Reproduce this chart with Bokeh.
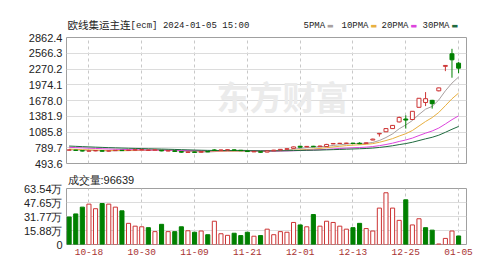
from bokeh.plotting import figure
from bokeh.layouts import column
from bokeh.models import Range1d, FixedTicker, Label, NumeralTickFormatter, Title
from bokeh.core.properties import value
from bokeh.embed import file_html
from bokeh.resources import INLINE

# ---------------- data ----------------
dates = ["10-13", "10-16", "10-17", "10-18", "10-19", "10-20", "10-23", "10-24", "10-25", "10-26", "10-27",
         "10-30", "10-31", "11-01", "11-02", "11-03", "11-06", "11-07", "11-08", "11-09", "11-10",
         "11-13", "11-14", "11-15", "11-16", "11-17", "11-20", "11-21", "11-22", "11-23", "11-24",
         "11-27", "11-28", "11-29", "11-30", "12-01", "12-04", "12-05", "12-06", "12-07", "12-08",
         "12-11", "12-12", "12-13", "12-14", "12-15", "12-18", "12-19", "12-20", "12-21", "12-22",
         "12-25", "12-26", "12-27", "12-28", "12-29", "01-02", "01-03", "01-04", "01-05"]
tick_dates = ["10-18", "10-30", "11-09", "11-21", "12-01", "12-13", "12-25", "01-05"]

opens = [745, 745, 735, 725, 730, 735, 726, 735, 742, 738,
         746, 750, 742, 745, 742, 728, 732, 718, 702, 712,
         705, 720, 748, 742, 748, 750, 742, 730, 712, 715,
         708, 732, 748, 760, 778, 818, 806, 818, 810, 812,
         862, 870, 872, 876, 875, 872, 935, 1050, 1090, 1150,
         1275, 1330, 1320, 1550, 1640, 1681, 1860, 2320, 2556, 2380]
highs = [755, 750, 742, 738, 742, 738, 736, 746, 745, 750,
         758, 762, 752, 755, 748, 740, 736, 722, 715, 716,
         722, 724, 760, 752, 758, 755, 746, 735, 728, 718,
         735, 750, 765, 780, 810, 825, 822, 825, 828, 862,
         875, 880, 882, 880, 892, 890, 960, 1062, 1155, 1215,
         1375, 1400, 1480, 1725, 1836, 1690, 1918, 2340, 2650, 2400]
lows = [740, 735, 722, 720, 725, 720, 720, 730, 730, 735,
        740, 745, 738, 740, 725, 725, 715, 700, 695, 698,
        700, 708, 735, 738, 742, 735, 728, 712, 708, 700,
        705, 728, 742, 755, 775, 795, 800, 805, 805, 808,
        858, 862, 866, 864, 858, 868, 930, 1000, 1085, 1145,
        1265, 1150, 1315, 1545, 1573, 1525, 1850, 2230, 2106, 2192]
closes = [748, 740, 728, 732, 738, 725, 732, 742, 736, 745,
          752, 755, 745, 750, 730, 735, 720, 706, 710, 702,
          718, 712, 742, 748, 752, 740, 735, 718, 722, 705,
          730, 745, 760, 772, 806, 800, 815, 808, 822, 852,
          870, 874, 876, 870, 866, 882, 952, 1060, 1150, 1210,
          1360, 1310, 1475, 1720, 1712, 1618, 1915, 2337, 2443, 2286]
# closes before the window, only used to seed the moving averages
prev_closes = [905, 890, 884, 878, 870, 866, 860, 858, 852, 845,
               842, 838, 835, 832, 830, 828, 826, 822, 818, 815,
               800, 788, 775, 768, 762, 758, 752, 750, 755]
volumes = [312000, 347000, 424000, 458000, 406000, 465000, 458000, 424000, 382000, 240000,
           208000, 201000, 191000, 146000, 229000, 146000, 146000, 201000, 156000, 139000,
           153000, 111000, 264000, 122000, 104000, 128000, 101000, 139000, 94000, 101000,
           174000, 111000, 146000, 139000, 250000, 222000, 201000, 340000, 208000, 264000,
           250000, 208000, 174000, 191000, 240000, 181000, 153000, 413000, 587000, 413000,
           274000, 507000, 222000, 292000, 191000, 163000, 6000, 69000, 153000, 96639]

price_ticks = [493.6, 789.7, 1085.8, 1381.9, 1678.0, 1974.1, 2270.2, 2566.3, 2862.4]
vol_ticks = [0, 158800, 317700, 476500, 635400]
vol_tick_labels = ["0", "15.88万", "31.77万", "47.65万", "63.54万"]
ma_periods = [5, 10, 20, 30]
ma_names = ["5PMA", "10PMA", "20PMA", "30PMA"]
ma_colors = ["#a8a0a0", "#e8b040", "#dd44dd", "#1f6b3f"]
title_cn = "欧线集运主连"
title_rest = "[ecm] 2024-01-05 15:00"

# ---------------- derived ----------------
n = len(closes)
idx = list(range(n))
tick_pos = [dates.index(d) for d in tick_dates]
all_close = prev_closes + closes
off = len(prev_closes)


def moving_average(k):
    return [sum(all_close[off + i - k + 1: off + i + 1]) / k for i in range(n)]


RED = "#cc3333"
GREEN = "#008000"
up = [c >= o for o, c in zip(opens, closes)]
c_line = [RED if u else GREEN for u in up]
c_fill = ["white" if u else GREEN for u in up]
b_top = [max(o, c) for o, c in zip(opens, closes)]
b_bot = [min(o, c) for o, c in zip(opens, closes)]
prevc = [prev_closes[-1]] + closes[:-1]
vup = [c >= pc for c, pc in zip(closes, prevc)]
v_line = [RED if u else GREEN for u in vup]
v_fill = ["white" if u else GREEN for u in vup]

SANS = "Liberation Sans"
TXT = "#222222"
LEFT, RIGHT = 66, 32

# ---------------- header strip (title + legend) ----------------
H0 = 31
HY = 25.0
p0 = figure(width=498, height=H0, x_range=Range1d(LEFT, 498 - RIGHT), y_range=Range1d(H0, 0),
            output_backend="svg", toolbar_location=None, x_axis_location=None, y_axis_location=None,
            min_border_left=LEFT, min_border_right=RIGHT, min_border_top=0, min_border_bottom=0)
p0.outline_line_color = None
p0.grid.visible = False
p0.add_layout(Label(x=67, y=23.6, text=title_cn, text_font="Noto Sans CJK SC", text_font_size="10.5px",
                    text_color=TXT, text_baseline="middle"))
p0.add_layout(Label(x=130, y=HY, text=title_rest, text_font="Liberation Mono", text_font_size="9px",
                    text_color=TXT, text_baseline="middle"))
leg_x = [303, 341, 381, 422]
for name, col, lx in zip(ma_names, ma_colors, leg_x):
    p0.add_layout(Label(x=lx, y=HY, text=name, text_font="Liberation Mono", text_font_size="9px",
                        text_color=TXT, text_baseline="middle"))
    p0.add_layout(Label(x=lx + len(name) * 5.4 + 2, y=HY, text="▬", text_font="DejaVu Sans",
                        text_font_size="7px", text_color=col, text_baseline="middle"))

xr = Range1d(-0.4, 60.2)

# ---------------- price panel ----------------
p1 = figure(width=498, height=169 - H0, x_range=xr,
            y_range=Range1d(price_ticks[0], price_ticks[-1]),
            output_backend="svg", toolbar_location=None, x_axis_location=None,
            min_border_left=LEFT, min_border_right=RIGHT, min_border_top=37 - H0, min_border_bottom=6)
p1.outline_line_color = "#a0a0a0"
p1.yaxis.ticker = FixedTicker(ticks=price_ticks)
p1.yaxis.formatter = NumeralTickFormatter(format="0.0")
p1.yaxis.axis_line_color = None
p1.yaxis.major_tick_line_color = None
p1.yaxis.minor_tick_line_color = None
p1.yaxis.major_tick_out = 0
p1.yaxis.major_tick_in = 0
p1.yaxis.major_label_standoff = 4
p1.yaxis.major_label_text_font = SANS
p1.yaxis.major_label_text_font_size = "11px"
p1.yaxis.major_label_text_color = TXT
p1.ygrid.grid_line_color = "#dcdcdc"
p1.xgrid.ticker = FixedTicker(ticks=tick_pos)
p1.xgrid.grid_line_color = "#c8c8c8"
p1.xgrid.grid_line_dash = "3 3"

p1.add_layout(Label(x=150, y=68, x_units="screen", y_units="screen", text="东方财富",
                    text_font="Noto Sans CJK SC", text_font_style="bold", text_font_size="33px",
                    text_color="#ebebeb", text_baseline="middle", level="underlay"))

for k, col in zip(ma_periods, ma_colors):
    p1.line(idx, moving_average(k), line_color=col, line_width=1)

p1.segment(x0=idx, y0=lows, x1=idx, y1=highs, line_color=c_line, line_width=1)
p1.vbar(x=idx, width=0.6, top=b_top, bottom=b_bot, fill_color=c_fill, line_color=c_line, line_width=1)

# ---------------- volume panel ----------------
p2 = figure(width=498, height=101, x_range=xr, y_range=Range1d(vol_ticks[0], vol_ticks[-1]),
            output_backend="svg", toolbar_location=None,
            min_border_left=LEFT, min_border_right=RIGHT, min_border_top=14, min_border_bottom=26)
p2.add_layout(Title(text="成交量:" + str(volumes[-1]), align="left", offset=1, standoff=5,
                    text_font=SANS, text_font_size="11px", text_font_style="normal",
                    text_color=TXT), "above")
p2.outline_line_color = "#a0a0a0"
p2.yaxis.ticker = FixedTicker(ticks=vol_ticks)
p2.yaxis.major_label_overrides = dict(zip(vol_ticks, vol_tick_labels))
p2.yaxis.axis_line_color = None
p2.yaxis.major_tick_line_color = None
p2.yaxis.minor_tick_line_color = None
p2.yaxis.major_tick_out = 0
p2.yaxis.major_tick_in = 0
p2.yaxis.major_label_standoff = 4
p2.yaxis.major_label_text_font = SANS
p2.yaxis.major_label_text_font_size = "11px"
p2.yaxis.major_label_text_color = TXT
p2.xaxis.ticker = FixedTicker(ticks=tick_pos)
p2.xaxis.major_label_overrides = {i: dates[i] for i in tick_pos}
p2.xaxis.axis_line_color = None
p2.xaxis.major_tick_line_color = None
p2.xaxis.minor_tick_line_color = None
p2.xaxis.major_tick_out = 0
p2.xaxis.major_tick_in = 0
p2.xaxis.major_label_standoff = 4
p2.xaxis.major_label_text_font = "Liberation Mono"
p2.xaxis.major_label_text_font_size = "9.5px"
p2.xaxis.major_label_text_color = "#a83232"
p2.ygrid.grid_line_color = "#dcdcdc"
p2.xgrid.ticker = FixedTicker(ticks=tick_pos)
p2.xgrid.grid_line_color = "#c8c8c8"
p2.xgrid.grid_line_dash = "3 3"

p2.vbar(x=idx, width=0.62, top=volumes, bottom=0, fill_color=v_fill, line_color=v_line, line_width=1)

layout = column(p0, p1, p2, spacing=0)
open("out.html", "w").write(file_html(layout, INLINE))
